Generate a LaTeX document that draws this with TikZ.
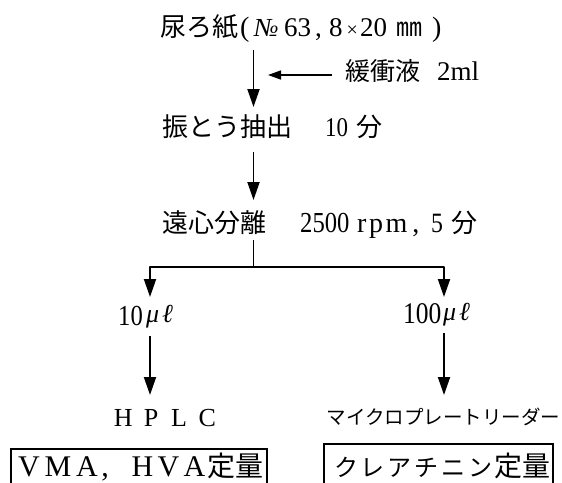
\documentclass[tikz,border=0pt]{standalone}
\usepackage{fontspec}
\setmainfont{Liberation Serif}
\newfontfamily\jp{Noto Sans CJK JP}
\newfontfamily\nm[FakeStretch=0.85]{Liberation Serif}
\usetikzlibrary{arrows.meta}
\newcommand\fs[1]{\fontsize{#1}{#1}\selectfont}
\begin{document}
\begin{tikzpicture}[x=1pt,y=-1pt,
  arr/.style={line width=1.9pt,-{Triangle[length=18pt,width=12pt]}},
  sarr/.style={line width=1.5pt,-{Triangle[length=13pt,width=9pt]}},
  conn/.style={line width=1.9pt,line join=round},
  txt/.style={inner sep=0pt,anchor=base west,font=\fs{26}},
  boxnode/.style={draw,line width=1.5pt,inner sep=0pt,anchor=north,overlay}]
\useasboundingbox[fill=white] (0,0) rectangle (562,482);
\clip (0,0) rectangle (562,482);
% texts
\node[txt] (t1) at (160,36) {\makebox[80pt][l]{\jp 尿ろ紙}\makebox[14pt][l]{\fs{28}(}\makebox[30pt][l]{\itshape\fs{26}№}\makebox[31pt][l]{\fs{27}63}\makebox[14pt][l]{\fs{27},}\makebox[15pt][l]{\fs{27}8}\makebox[16pt]{\fs{20}×}\makebox[36pt][l]{\fs{27}20}\makebox[36pt][l]{\jp ㎜}\fs{28})};
\node[txt] (buf) at (345,80) {{\jp\fs{25}緩衝液}\hspace{17pt}{\fs{27}2ml}};
\node[txt] (t2) at (162,136) {\makebox[163pt][l]{\jp 振とう抽出}\makebox[31pt][l]{\nm\fs{27}10}{\jp 分}};
\node[txt] (t3) at (162,232) {\makebox[138pt][l]{\jp 遠心分離}\makebox[57pt][l]{\nm\fs{29}2500}\makebox[74pt][l]{\fs{28}r\hspace{2.5pt}p\hspace{2.5pt}m\hspace{5pt},}\makebox[20pt][l]{\nm\fs{28}5}{\jp 分}};
\node[txt] (v10) at (118,325) {\makebox[28pt][l]{\nm\fs{29}10}\raisebox{3pt}{\itshape\fs{26}μ\hspace{3pt}ℓ}};
\node[txt] (v100) at (403,323) {\makebox[40pt][l]{\nm\fs{30}100}\raisebox{3pt}{\itshape\fs{26}μ\hspace{3pt}ℓ}};
\node[txt] (hplc) at (109,426.5) {\fs{26}\makebox[28pt]{H}\makebox[28pt]{P}\makebox[28pt]{L}\makebox[28pt]{C}};
\node[inner sep=0pt] (mpr) at (443.5,417) {\jp\fs{19.5}マイクロプレートリーダー};
\node[boxnode,minimum width=256pt,text height=27.5pt,text depth=25pt] (bx1) at (139,448)
  {\fs{30}\makebox[29pt]{V}\makebox[29pt]{M}\makebox[29pt]{A}\makebox[28pt][l]{,}\makebox[26pt]{H}\makebox[26pt]{V}\makebox[26pt]{A}{\jp\fs{28}定量}};
\node[boxnode,minimum width=229pt,text height=32.5pt,text depth=25pt] (bx2) at (438.5,443)
  {\hspace{6pt}\jp\fs{24}\makebox[27pt]{ク}\makebox[27pt]{レ}\makebox[27pt]{ア}\makebox[27pt]{チ}\makebox[27pt]{ニ}\makebox[27pt]{ン}{\fs{28}定量}};
% connector coordinates
\coordinate (a1s) at (253.5,50);
\coordinate (a1e) at (253.5,107);
\coordinate (bs) at (332,75);
\coordinate (be) at (268,75);
\coordinate (a2s) at (253.5,152);
\coordinate (a2e) at (253.5,200);
\coordinate (a3s) at (253.5,240);
\coordinate (br) at (253.5,267);
\coordinate (l1e) at (150,297);
\coordinate (r1e) at (444,297);
\coordinate (l2s) at (150,336);
\coordinate (l2e) at (150,395);
\coordinate (r2s) at (444,333);
\coordinate (r2e) at (444,395);
% connectors
\draw[arr] (a1s) -- (a1e);
\draw[sarr] (bs) -- (be);
\draw[arr] (a2s) -- (a2e);
\draw[conn] (a3s) -- (br);
\draw[arr,line join=round] (br) -| (l1e);
\draw[arr,line join=round] (br) -| (r1e);
\draw[arr] (l2s) -- (l2e);
\draw[arr] (r2s) -- (r2e);
\end{tikzpicture}
\end{document}
